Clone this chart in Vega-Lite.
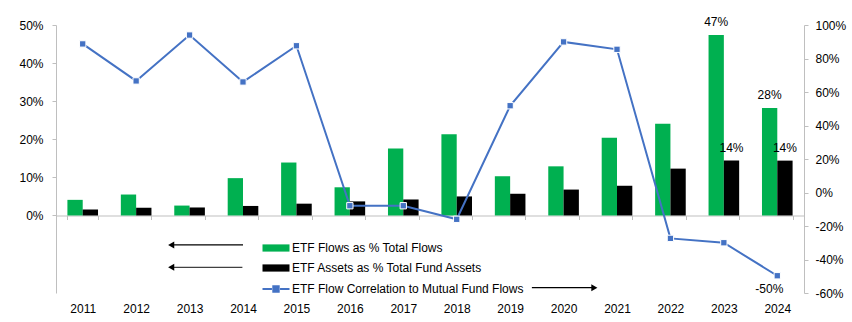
{
  "$schema": "https://vega.github.io/schema/vega-lite/v6.json",
  "width": 748,
  "height": 268,
  "autosize": {"type": "none"},
  "padding": {"left": 56, "top": 25, "right": 48, "bottom": 29},
  "background": "white",
  "config": {
    "view": {"stroke": null},
    "font": "Liberation Sans",
    "axis": {"labelFont": "Liberation Sans", "labelFontSize": 12, "labelColor": "#000000", "domainColor": "#BFBFBF", "tickColor": "#BFBFBF", "grid": false, "title": null, "labelOverlap": false},
    "axisQuantitative": {"labelOverlap": false},
    "text": {"font": "Liberation Sans", "fontSize": 12}
  },
  "data": {"values": [
    {"year": "2011", "series": "ETF Flows as % Total Flows", "value": 0.041},
    {"year": "2012", "series": "ETF Flows as % Total Flows", "value": 0.055},
    {"year": "2013", "series": "ETF Flows as % Total Flows", "value": 0.026},
    {"year": "2014", "series": "ETF Flows as % Total Flows", "value": 0.098},
    {"year": "2015", "series": "ETF Flows as % Total Flows", "value": 0.139},
    {"year": "2016", "series": "ETF Flows as % Total Flows", "value": 0.074},
    {"year": "2017", "series": "ETF Flows as % Total Flows", "value": 0.176},
    {"year": "2018", "series": "ETF Flows as % Total Flows", "value": 0.213},
    {"year": "2019", "series": "ETF Flows as % Total Flows", "value": 0.103},
    {"year": "2020", "series": "ETF Flows as % Total Flows", "value": 0.129},
    {"year": "2021", "series": "ETF Flows as % Total Flows", "value": 0.204},
    {"year": "2022", "series": "ETF Flows as % Total Flows", "value": 0.241},
    {"year": "2023", "series": "ETF Flows as % Total Flows", "value": 0.474},
    {"year": "2024", "series": "ETF Flows as % Total Flows", "value": 0.282},
    {"year": "2011", "series": "ETF Assets as % Total Fund Assets", "value": 0.016},
    {"year": "2012", "series": "ETF Assets as % Total Fund Assets", "value": 0.020},
    {"year": "2013", "series": "ETF Assets as % Total Fund Assets", "value": 0.021},
    {"year": "2014", "series": "ETF Assets as % Total Fund Assets", "value": 0.025},
    {"year": "2015", "series": "ETF Assets as % Total Fund Assets", "value": 0.031},
    {"year": "2016", "series": "ETF Assets as % Total Fund Assets", "value": 0.037},
    {"year": "2017", "series": "ETF Assets as % Total Fund Assets", "value": 0.042},
    {"year": "2018", "series": "ETF Assets as % Total Fund Assets", "value": 0.050},
    {"year": "2019", "series": "ETF Assets as % Total Fund Assets", "value": 0.057},
    {"year": "2020", "series": "ETF Assets as % Total Fund Assets", "value": 0.068},
    {"year": "2021", "series": "ETF Assets as % Total Fund Assets", "value": 0.078},
    {"year": "2022", "series": "ETF Assets as % Total Fund Assets", "value": 0.123},
    {"year": "2023", "series": "ETF Assets as % Total Fund Assets", "value": 0.144},
    {"year": "2024", "series": "ETF Assets as % Total Fund Assets", "value": 0.144},
    {"year": "2011", "series": "ETF Flow Correlation to Mutual Fund Flows", "value": 0.887},
    {"year": "2012", "series": "ETF Flow Correlation to Mutual Fund Flows", "value": 0.666},
    {"year": "2013", "series": "ETF Flow Correlation to Mutual Fund Flows", "value": 0.94},
    {"year": "2014", "series": "ETF Flow Correlation to Mutual Fund Flows", "value": 0.66},
    {"year": "2015", "series": "ETF Flow Correlation to Mutual Fund Flows", "value": 0.876},
    {"year": "2016", "series": "ETF Flow Correlation to Mutual Fund Flows", "value": -0.079},
    {"year": "2017", "series": "ETF Flow Correlation to Mutual Fund Flows", "value": -0.079},
    {"year": "2018", "series": "ETF Flow Correlation to Mutual Fund Flows", "value": -0.16},
    {"year": "2019", "series": "ETF Flow Correlation to Mutual Fund Flows", "value": 0.518},
    {"year": "2020", "series": "ETF Flow Correlation to Mutual Fund Flows", "value": 0.899},
    {"year": "2021", "series": "ETF Flow Correlation to Mutual Fund Flows", "value": 0.855},
    {"year": "2022", "series": "ETF Flow Correlation to Mutual Fund Flows", "value": -0.274},
    {"year": "2023", "series": "ETF Flow Correlation to Mutual Fund Flows", "value": -0.30},
    {"year": "2024", "series": "ETF Flow Correlation to Mutual Fund Flows", "value": -0.497}
  ]},
  "encoding": {
    "x": {
      "field": "year", "type": "nominal",
      "scale": {"paddingInner": 0.427, "paddingOuter": 0.2135},
      "axis": {"title": null, "labelAngle": 0, "offset": -77.5, "tickBand": "extent", "tickSize": 4, "labelPadding": 84, "domainColor": "#BFBFBF", "tickColor": "#BFBFBF"}
    }
  },
  "layer": [
    {
      "layer": [
        {
          "transform": [{"filter": "datum.series !== 'ETF Flow Correlation to Mutual Fund Flows'"}],
          "mark": {"type": "bar"},
          "encoding": {
            "xOffset": {"field": "series", "type": "nominal", "sort": ["ETF Flows as % Total Flows", "ETF Assets as % Total Fund Assets"], "scale": {"paddingInner": 0, "paddingOuter": 0}},
            "y": {"field": "value", "type": "quantitative", "scale": {"domain": [-0.2035, 0.5], "nice": false, "zero": false},
              "axis": {"orient": "left", "values": [0, 0.1, 0.2, 0.3, 0.4, 0.5], "format": ".0%", "tickSize": 4, "labelPadding": 9}},
            "color": {"field": "series", "type": "nominal",
              "scale": {"domain": ["ETF Flows as % Total Flows", "ETF Assets as % Total Fund Assets", "ETF Flow Correlation to Mutual Fund Flows"], "range": ["#00B050", "#000000", "#4472C4"]},
              "legend": {
                "title": null, "orient": "none", "legendX": 214, "legendY": 217, "padding": 0,
                "symbolSize": 81, "symbolType": "M-3,-0.8H3V0.8H-3Z", "labelOffset": 10, "rowPadding": 8, "labelLimit": 0,
                "labelFont": "Liberation Sans", "labelFontSize": 12, "labelColor": "#000000",
                "encode": {"symbols": {"update": {
                  "shape": {"signal": "datum.value === 'ETF Flow Correlation to Mutual Fund Flows' ? 'M-3,0H-0.9M0.9,0H3M-0.6,-0.6H0.6V0.6H-0.6Z' : 'M-3,-0.8H3V0.8H-3Z'"},
                  "stroke": {"value": "#4472C4"},
                  "strokeWidth": {"signal": "datum.value === 'ETF Flow Correlation to Mutual Fund Flows' ? 2 : 0"}
                }}}
              }}
          }
        },
        {
          "transform": [{"filter": "datum.series !== 'ETF Flow Correlation to Mutual Fund Flows' && (datum.year === '2023' || datum.year === '2024')"}],
          "mark": {"type": "text", "baseline": "middle", "dy": -13, "fontSize": 12, "color": "#000000"},
          "encoding": {
            "xOffset": {"field": "series", "type": "nominal", "sort": ["ETF Flows as % Total Flows", "ETF Assets as % Total Fund Assets"]},
            "y": {"field": "value", "type": "quantitative"},
            "text": {"field": "value", "type": "quantitative", "format": ".0%"}
          }
        },
        {
          "data": {"values": [{"a": 1}]},
          "mark": {"type": "rule", "color": "#000000", "strokeWidth": 1.2},
          "encoding": {
            "x": {"datum": "2013", "bandPosition": -0.1},
            "x2": {"datum": "2014", "bandPosition": 0.5},
            "y": {"datum": -0.0774}
          }
        },
        {
          "data": {"values": [{"a": 1}]},
          "mark": {"type": "rule", "color": "#404040", "strokeWidth": 1.2},
          "encoding": {
            "x": {"datum": "2013", "bandPosition": -0.1},
            "x2": {"datum": "2014", "bandPosition": 0.48},
            "y": {"datum": -0.136}
          }
        },
        {
          "data": {"values": [{"a": 1}]},
          "mark": {"type": "rule", "color": "#000000", "strokeWidth": 1.2},
          "encoding": {
            "x": {"datum": "2019", "bandPosition": 1.21},
            "x2": {"datum": "2021", "bandPosition": -0.24},
            "y": {"datum": -0.1895}
          }
        },
        {
          "data": {"values": [{"a": 1}]},
          "mark": {"type": "point", "shape": "triangle-left", "filled": true, "color": "#000000", "size": 50, "opacity": 1},
          "encoding": {
            "x": {"datum": "2013", "bandPosition": -0.1},
            "y": {"datum": -0.0774}
          }
        },
        {
          "data": {"values": [{"a": 1}]},
          "mark": {"type": "point", "shape": "triangle-left", "filled": true, "color": "#000000", "size": 50, "opacity": 1},
          "encoding": {
            "x": {"datum": "2013", "bandPosition": -0.1},
            "y": {"datum": -0.136}
          }
        },
        {
          "data": {"values": [{"a": 1}]},
          "mark": {"type": "point", "shape": "triangle-right", "filled": true, "color": "#000000", "size": 50, "opacity": 1},
          "encoding": {
            "x": {"datum": "2021", "bandPosition": -0.24},
            "y": {"datum": -0.1895}
          }
        }
      ]
    },
    {
      "transform": [{"filter": "datum.series === 'ETF Flow Correlation to Mutual Fund Flows'"}],
      "encoding": {
        "y": {"field": "value", "type": "quantitative", "scale": {"domain": [-0.6, 1.0], "nice": false, "zero": false},
          "axis": {"orient": "right", "values": [-0.6, -0.4, -0.2, 0, 0.2, 0.4, 0.6, 0.8, 1.0], "labelExpr": "(datum.value < 0 ? '-' : '') + format(abs(datum.value), '.0%')", "tickSize": 4, "labelPadding": 7, "labelOverlap": false, "labelBound": false}}
      },
      "layer": [
        {
          "mark": {"type": "line", "color": "#4472C4", "strokeWidth": 2}
        },
        {
          "mark": {"type": "point", "shape": "square", "filled": true, "fill": "#4472C4", "stroke": "#FFFFFF", "strokeWidth": 1, "size": 40, "opacity": 1}
        },
        {
          "transform": [{"filter": "datum.year === '2024'"}, {"calculate": "(datum.value < 0 ? '-' : '') + format(abs(datum.value), '.0%')", "as": "lbl"}],
          "mark": {"type": "text", "baseline": "middle", "dy": 13, "dx": -8, "fontSize": 12, "color": "#000000"},
          "encoding": {"text": {"field": "lbl"}}
        }
      ]
    }
  ],
  "resolve": {"scale": {"y": "independent"}}
}
